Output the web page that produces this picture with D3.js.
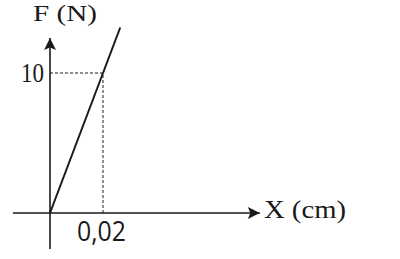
<!DOCTYPE html>
<html>
<head>
<meta charset="utf-8">
<script src="https://cdn.jsdelivr.net/npm/d3@7"></script>
<style>
  body { margin: 0; background: #fff; }
  svg { display: block; }
</style>
</head>
<body>
<svg width="400" height="259"></svg>
<script>
// data
var lineX = [0, 0.0265];
var lineF = [0, 13.25];
var markX = 0.02;
var markF = 10;
var xLabel = "X (cm)";
var yLabel = "F (N)";
var xTickLabel = "0,02";
var yTickLabel = "10";

var svg = d3.select("svg");
var ink = "#1a1a1a";

var x = d3.scaleLinear().domain([0, 0.02]).range([50, 103]);
var y = d3.scaleLinear().domain([0, 10]).range([213, 73]);

var defs = svg.append("defs");
defs.append("marker")
    .attr("id", "arrow")
    .attr("viewBox", "0 0 10 10")
    .attr("refX", 10).attr("refY", 5)
    .attr("markerWidth", 14).attr("markerHeight", 12)
    .attr("markerUnits", "userSpaceOnUse")
    .attr("orient", "auto")
    .append("path")
    .attr("d", "M0,0 L10,5 L0,10 L2,5 Z")
    .attr("fill", ink);

// axes
svg.append("line")
    .attr("x1", x(-0.014)).attr("y1", y(0))
    .attr("x2", x(0.0792)).attr("y2", y(0))
    .attr("stroke", ink).attr("stroke-width", 1.6)
    .attr("marker-end", "url(#arrow)");

svg.append("line")
    .attr("x1", x(0)).attr("y1", y(-2.58))
    .attr("x2", x(0)).attr("y2", y(12.5))
    .attr("stroke", ink).attr("stroke-width", 1.6)
    .attr("marker-end", "url(#arrow)");

// dashed guides
svg.append("path")
    .attr("d", "M" + x(0) + "," + y(markF) + "H" + x(markX) + "V" + y(0))
    .attr("fill", "none")
    .attr("stroke", ink).attr("stroke-width", 1)
    .attr("stroke-dasharray", "3,2");

// the line
var line = d3.line()
    .x(function (d) { return x(d[0]); })
    .y(function (d) { return y(d[1]); });
svg.append("path")
    .datum(lineX.map(function (v, i) { return [v, lineF[i]]; }))
    .attr("d", line)
    .attr("fill", "none")
    .attr("stroke", ink).attr("stroke-width", 2);

// texts
var serif = "'Liberation Serif', 'DejaVu Serif', serif";
svg.append("text")
    .attr("x", 33).attr("y", 21)
    .attr("font-family", serif).attr("font-size", 24)
    .attr("textLength", 64).attr("lengthAdjust", "spacingAndGlyphs")
    .attr("fill", ink)
    .text(yLabel);

svg.append("text")
    .attr("x", 21).attr("y", y(markF) + 9)
    .attr("font-family", serif).attr("font-size", 27)
    .attr("textLength", 23).attr("lengthAdjust", "spacingAndGlyphs")
    .attr("fill", ink)
    .text(yTickLabel);

svg.append("text")
    .attr("x", 77).attr("y", 241)
    .attr("font-family", "'Open Sans', 'DejaVu Sans', sans-serif").attr("font-size", 27)
    .attr("textLength", 49).attr("lengthAdjust", "spacingAndGlyphs")
    .attr("fill", ink)
    .text(xTickLabel);

svg.append("text")
    .attr("x", 264).attr("y", 218)
    .attr("font-family", serif).attr("font-size", 25)
    .attr("textLength", 82).attr("lengthAdjust", "spacingAndGlyphs")
    .attr("fill", ink)
    .text(xLabel);
</script>
</body>
</html>
